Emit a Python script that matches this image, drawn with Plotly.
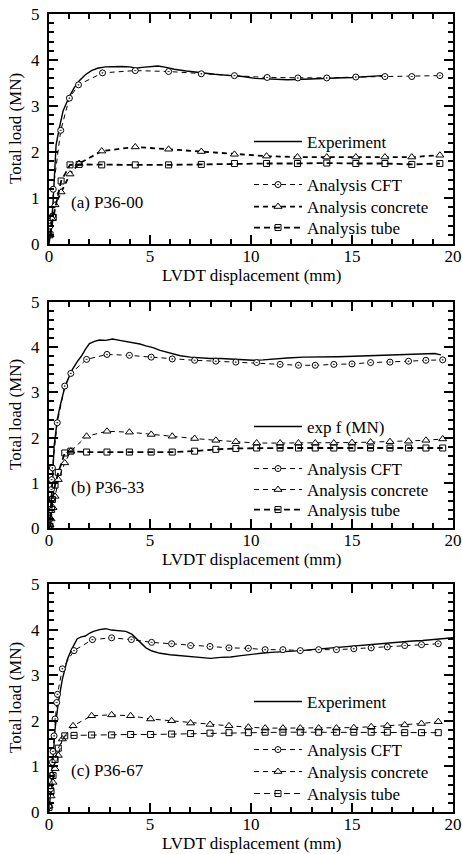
import plotly.graph_objects as go

# ---------------- data ----------------
panel_labels = ["(a) P36-00", "(b) P36-33", "(c) P36-67"]
exp_names = ["Experiment", "exp f (MN)", "Experiment"]
x_ticks = [0, 5, 10, 15, 20]
y_ticks = [0, 1, 2, 3, 4, 5]

# Panel (a) P36-00
exp1_x = [0, 0.1, 0.2, 0.28, 0.35, 0.5, 0.7, 1.0, 1.25, 1.5, 1.8, 2.1, 2.4, 2.8, 3.2, 3.6, 4.0, 4.3,
          4.6, 5.0, 5.4, 5.8, 6.2, 6.8, 7.5, 8.2, 9.0, 9.6, 10.2, 11.0, 11.8, 12.6, 13.4, 14.2, 15.0,
          15.6, 16.1, 16.5]
exp1_y = [0, 0.3, 0.9, 1.7, 2.15, 2.5, 2.9, 3.2, 3.4, 3.55, 3.68, 3.77, 3.82, 3.85, 3.86, 3.86, 3.85,
          3.82, 3.84, 3.86, 3.87, 3.84, 3.8, 3.76, 3.72, 3.69, 3.66, 3.64, 3.6, 3.58, 3.57, 3.58, 3.6,
          3.61, 3.62, 3.64, 3.66, 3.66]
cft1_x = [0.05, 0.18, 0.21, 0.58, 1.01, 1.46, 2.65, 4.27, 5.92, 7.54, 9.18, 10.8, 12.32, 13.75,
          15.19, 16.63, 17.96, 19.35]
cft1_y = [0.39, 0.61, 1.19, 2.47, 3.17, 3.46, 3.72, 3.77, 3.75, 3.70, 3.66, 3.62, 3.61, 3.61, 3.63,
          3.64, 3.64, 3.66]
conc1_x = [0.05, 0.15, 0.3, 0.6, 1.04, 1.49, 2.61, 4.27, 5.92, 7.54, 9.18, 10.77, 12.3, 13.75,
           15.19, 16.63, 17.96, 19.35]
conc1_y = [0.2, 0.55, 0.85, 1.13, 1.52, 1.75, 2.02, 2.11, 2.06, 2.01, 1.95, 1.91, 1.89, 1.89, 1.89,
           1.89, 1.89, 1.93]
tube1_x = [0.05, 0.21, 0.6, 1.04, 1.49, 2.61, 4.27, 5.92, 7.54, 9.18, 10.77, 12.3, 13.75, 15.19,
           16.63, 17.96, 19.35]
tube1_y = [0.2, 0.58, 1.37, 1.72, 1.73, 1.72, 1.72, 1.72, 1.73, 1.75, 1.75, 1.75, 1.76, 1.75, 1.75,
           1.73, 1.75]

# Panel (b) P36-33
exp2_x = [0, 0.1, 0.18, 0.25, 0.33, 0.41, 0.55, 0.75, 0.95, 1.16, 1.4, 1.6, 1.8, 2.0, 2.25, 2.5,
          2.8, 3.15, 3.5, 3.8, 4.15, 4.5, 4.8, 5.15, 5.5, 5.8, 6.1, 6.5, 7.0, 7.5, 8.0, 8.5, 9.0, 9.5,
          10.1, 10.6, 11.1, 11.8, 12.6, 13.4, 14.3, 15.1, 15.9, 16.7, 17.6, 18.2, 18.7, 19.1, 19.4]
exp2_y = [0, 0.5, 1.1, 1.8, 2.1, 2.4, 2.7, 3.06, 3.3, 3.51, 3.68, 3.8, 3.95, 4.08, 4.13, 4.16, 4.15,
          4.18, 4.15, 4.13, 4.1, 4.07, 4.03, 3.99, 3.93, 3.89, 3.85, 3.81, 3.78, 3.76, 3.75, 3.75,
          3.74, 3.72, 3.71, 3.72, 3.74, 3.76, 3.78, 3.78, 3.79, 3.8, 3.81, 3.82, 3.83, 3.84, 3.85,
          3.86, 3.83]
cft2_x = [0, 0.04, 0.08, 0.12, 0.13, 0.17, 0.41, 0.78, 1.08, 1.86, 2.87, 3.98, 5.06, 6.1, 7.21,
          8.26, 9.25, 10.28, 11.44, 12.35, 13.18, 14.1, 15.0, 15.92, 16.88, 17.8, 18.66, 19.49]
cft2_y = [0.04, 0.2, 0.41, 0.85, 1.07, 1.33, 2.33, 3.14, 3.42, 3.73, 3.84, 3.82, 3.78, 3.74, 3.71,
          3.69, 3.67, 3.66, 3.62, 3.6, 3.6, 3.62, 3.63, 3.66, 3.67, 3.69, 3.71, 3.72]
conc2_x = [0, 0.05, 0.1, 0.2, 0.3, 0.46, 0.78, 1.08, 1.86, 2.87, 3.98, 5.06, 6.1, 7.21, 8.26, 9.25,
           10.28, 11.44, 12.35, 13.18, 14.1, 15.0, 15.92, 16.88, 17.8, 18.66, 19.49]
conc2_y = [0, 0.07, 0.2, 0.45, 0.7, 1.07, 1.44, 1.70, 2.03, 2.14, 2.12, 2.07, 2.03, 1.98, 1.94,
           1.91, 1.88, 1.88, 1.88, 1.88, 1.88, 1.89, 1.9, 1.91, 1.92, 1.94, 1.97]
tube2_x = [0, 0.05, 0.13, 0.17, 0.3, 0.46, 0.78, 1.08, 1.86, 2.87, 3.98, 5.06, 6.1, 7.21, 8.26,
           9.25, 10.28, 11.44, 12.35, 13.18, 14.1, 15.0, 15.92, 16.88, 17.8, 18.66, 19.49]
tube2_y = [0, 0.04, 0.41, 0.63, 0.95, 1.23, 1.66, 1.70, 1.68, 1.68, 1.68, 1.68, 1.68, 1.70, 1.74,
           1.76, 1.77, 1.77, 1.77, 1.77, 1.77, 1.77, 1.77, 1.77, 1.77, 1.77, 1.77]

# Panel (c) P36-67
exp3_x = [0, 0.1, 0.17, 0.3, 0.46, 0.66, 0.91, 1.1, 1.24, 1.4, 1.6, 1.8, 2.0, 2.2, 2.5, 2.8, 3.1,
          3.4, 3.8, 4.1, 4.3, 4.5, 4.8, 5.1, 5.5, 6.0, 6.5, 7.0, 7.5, 8.0, 8.5, 9.0, 9.5, 10.0, 10.5,
          11.0, 11.5, 12.0, 12.5, 13.0, 13.5, 14.0, 14.5, 15.0, 15.5, 16.0, 16.5, 17.0, 17.5, 18.0,
          18.5, 19.0, 19.5, 20.0]
exp3_y = [0, 0.5, 0.95, 1.82, 2.4, 2.91, 3.35, 3.55, 3.67, 3.8, 3.84, 3.86, 3.92, 3.96, 4.0, 4.02,
          3.99, 3.98, 3.96, 3.9, 3.82, 3.73, 3.6, 3.53, 3.48, 3.45, 3.43, 3.42, 3.39, 3.37, 3.39, 3.4,
          3.43, 3.46, 3.48, 3.5, 3.51, 3.53, 3.54, 3.56, 3.58, 3.6, 3.62, 3.64, 3.66, 3.68, 3.7, 3.71,
          3.73, 3.75, 3.76, 3.78, 3.8, 3.82]
cft3_x = [0, 0.08, 0.13, 0.17, 0.2, 0.25, 0.3, 0.38, 0.42, 0.66, 1.24, 2.15, 3.1, 4.08, 5.08, 6.07,
          7.01, 7.97, 8.91, 9.87, 10.7, 11.58, 12.44, 13.35, 14.23, 15.09, 15.95, 16.75, 17.61,
          18.44, 19.27]
cft3_y = [0.13, 0.51, 0.8, 1.09, 1.33, 1.67, 2.04, 2.4, 2.58, 3.14, 3.54, 3.78, 3.82, 3.78, 3.72,
          3.69, 3.65, 3.63, 3.6, 3.59, 3.56, 3.56, 3.54, 3.56, 3.56, 3.58, 3.6, 3.62, 3.65, 3.67, 3.69]
conc3_x = [0, 0.1, 0.2, 0.3, 0.46, 0.66, 1.19, 2.11, 3.1, 4.04, 5.03, 6.07, 7.01, 7.97, 8.91, 9.87,
           10.7, 11.58, 12.44, 13.35, 14.23, 15.09, 15.95, 16.75, 17.61, 18.44, 19.27]
conc3_y = [0.13, 0.35, 0.65, 0.95, 1.24, 1.6, 1.89, 2.11, 2.13, 2.11, 2.04, 2.0, 1.95, 1.92, 1.89,
           1.86, 1.84, 1.84, 1.84, 1.84, 1.84, 1.85, 1.87, 1.89, 1.91, 1.94, 1.98]
tube3_x = [0, 0.1, 0.2, 0.3, 0.46, 0.78, 1.24, 2.11, 3.1, 4.04, 5.03, 6.07, 7.01, 7.97, 8.91, 9.87,
           10.7, 11.58, 12.44, 13.35, 14.23, 15.09, 15.95, 16.75, 17.61, 18.44, 19.27]
tube3_y = [0.1, 0.45, 0.8, 1.15, 1.4, 1.67, 1.68, 1.69, 1.69, 1.7, 1.7, 1.71, 1.72, 1.73, 1.74,
           1.74, 1.75, 1.75, 1.75, 1.75, 1.75, 1.75, 1.75, 1.75, 1.74, 1.74, 1.74]

panels = [
    dict(exp=(exp1_x, exp1_y), cft=(cft1_x, cft1_y), conc=(conc1_x, conc1_y), tube=(tube1_x, tube1_y)),
    dict(exp=(exp2_x, exp2_y), cft=(cft2_x, cft2_y), conc=(conc2_x, conc2_y), tube=(tube2_x, tube2_y)),
    dict(exp=(exp3_x, exp3_y), cft=(cft3_x, cft3_y), conc=(conc3_x, conc3_y), tube=(tube3_x, tube3_y)),
]

# ---------------- layout geometry (pixels) ----------------
W, H = 462, 854
FONT = "Liberation Serif, Times New Roman, Times, serif"
FS = 17
x_left, x_right = 49, 453
frames = [(14, 244), (302, 528), (584, 812)]          # top, bottom of each plot frame
# vertical centres of legend entries: Experiment, CFT, concrete, tube
legend_rows = [[142, 185, 207, 228], [427, 469, 490, 510], [702, 750, 772, 794]]
conc_width = [1.8, 1.0, 1.0]
tube_width = [1.8, 1.8, 1.0]
LEG_X = 249           # left edge of each legend box
ITEMW = 48


def px_x(p):
    return p / W


def px_y(p):
    return 1 - p / H


fig = go.Figure()
leg_count = 0


def next_legend():
    global leg_count
    leg_count += 1
    return "legend" if leg_count == 1 else f"legend{leg_count}"


for i, pdata in enumerate(panels):
    n = i + 1
    xa = "x" if n == 1 else f"x{n}"
    ya = "y" if n == 1 else f"y{n}"
    legs = [next_legend() for _ in range(4)]

    fig.add_trace(go.Scatter(
        x=pdata["exp"][0], y=pdata["exp"][1], xaxis=xa, yaxis=ya, mode="lines",
        name=exp_names[i], legend=legs[0],
        line=dict(color="black", width=1.4)))
    fig.add_trace(go.Scatter(
        x=pdata["cft"][0], y=pdata["cft"][1], xaxis=xa, yaxis=ya, mode="lines+markers",
        name="Analysis CFT", legend=legs[1],
        line=dict(color="black", width=1, dash="5px,4px"),
        marker=dict(symbol="circle-dot", size=6, color="white",
                    line=dict(color="black", width=1))))
    fig.add_trace(go.Scatter(
        x=pdata["conc"][0], y=pdata["conc"][1], xaxis=xa, yaxis=ya, mode="lines+markers",
        name="Analysis concrete", legend=legs[2],
        line=dict(color="black", width=conc_width[i], dash="5px,4px"),
        marker=dict(symbol="triangle-up", size=7, color="white",
                    line=dict(color="black", width=1))))
    fig.add_trace(go.Scatter(
        x=pdata["tube"][0], y=pdata["tube"][1], xaxis=xa, yaxis=ya, mode="lines+markers",
        name="Analysis tube", legend=legs[3],
        line=dict(color="black", width=tube_width[i], dash="6px,4px"),
        marker=dict(symbol="square-open", size=6, color="black",
                    line=dict(color="black", width=1))))

    top, bot = frames[i]
    axis_common = dict(
        showline=True, linecolor="black", linewidth=2, mirror="allticks",
        ticks="inside", tickcolor="black", tickwidth=1.5,
        showgrid=False, zeroline=False,
        tickfont=dict(family=FONT, size=FS, color="black"),
    )
    fig.update_layout({
        ("xaxis" if n == 1 else f"xaxis{n}"): dict(
            axis_common, domain=[px_x(x_left), px_x(x_right)], anchor=ya,
            range=[0, 20], tickvals=x_ticks, ticklen=9, ticklabelstandoff=-4,
            minor=dict(dtick=1, ticklen=5, ticks="inside", tickcolor="black", tickwidth=1.5)),
        ("yaxis" if n == 1 else f"yaxis{n}"): dict(
            axis_common, domain=[px_y(bot), px_y(top)], anchor=xa,
            range=[0, 5], tickvals=y_ticks, ticklen=9, ticklabelstandoff=4,
            minor=dict(dtick=0.2, ticklen=5, ticks="inside", tickcolor="black", tickwidth=1.5)),
    })

    for leg, row_y in zip(legs, legend_rows[i]):
        fig.update_layout({leg: dict(
            xanchor="left", yanchor="middle", x=px_x(LEG_X), y=px_y(row_y),
            bgcolor="rgba(0,0,0,0)", borderwidth=0, itemwidth=ITEMW, tracegroupgap=0,
            font=dict(family=FONT, size=FS, color="black"),
        )})

    # axis titles and panel label
    fig.add_annotation(text="Total load (MN)", textangle=-90, xref="paper", yref="paper",
                       x=px_x(15), y=px_y((top + bot) / 2), showarrow=False,
                       xanchor="center", yanchor="middle",
                       font=dict(family=FONT, size=FS, color="black"))
    fig.add_annotation(text="LVDT displacement (mm)", xref="paper", yref="paper",
                       x=px_x((x_left + x_right) / 2), y=px_y(bot + 31), showarrow=False,
                       xanchor="center", yanchor="middle",
                       font=dict(family=FONT, size=FS, color="black"))
    fig.add_annotation(text=panel_labels[i], xref="paper", yref="paper",
                       x=px_x(69), y=px_y(top + (bot - top) * 0.82), showarrow=False,
                       xanchor="left", yanchor="middle",
                       font=dict(family=FONT, size=FS, color="black"))

fig.update_layout(
    width=W, height=H, margin=dict(l=0, r=0, t=0, b=0, autoexpand=False),
    paper_bgcolor="white", plot_bgcolor="white", showlegend=True,
)

fig.write_html("out.html", config={"displayModeBar": False},
               post_script="document.body.style.margin='0px';"
                           "document.body.style.overflow='hidden';")
